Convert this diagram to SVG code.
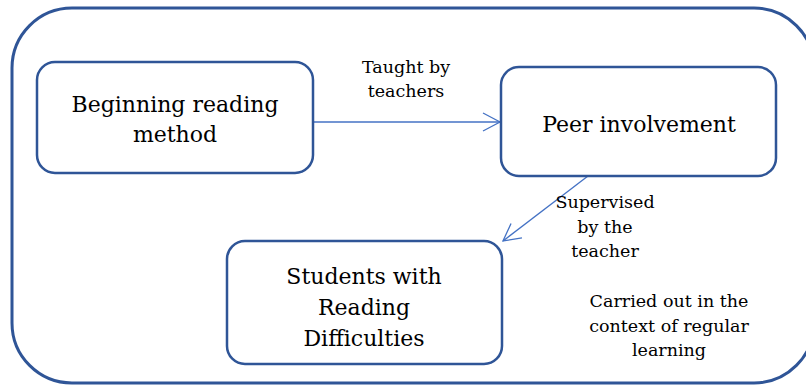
<svg xmlns="http://www.w3.org/2000/svg" width="806" height="385" viewBox="0 0 806 385">
  <defs>
    <style>
      .frame { fill: none; stroke: #2F5597; stroke-width: 3; }
      .box { fill: #FFFFFF; stroke: #2F5597; stroke-width: 2.5; }
      .conn { fill: none; stroke: #4472C4; stroke-width: 1.3; }
      .big { font-family: "DejaVu Serif", "Liberation Serif", serif; font-size: 22px; fill: #000000; text-anchor: middle; }
      .lbl { font-family: "DejaVu Serif", "Liberation Serif", serif; font-size: 17.5px; fill: #000000; text-anchor: middle; }
    </style>
    <marker id="open" viewBox="0 0 20 20" refX="18" refY="10" markerWidth="20" markerHeight="20" markerUnits="userSpaceOnUse" orient="auto">
      <path d="M1,1 L18,10 L1,19" fill="none" stroke="#4472C4" stroke-width="1.3"/>
    </marker>
  </defs>
  <rect class="frame" x="12" y="8" width="802" height="375" rx="60" ry="60"/>
  <g id="connectors">
    <line class="conn" x1="313" y1="122" x2="500" y2="122" marker-end="url(#open)"/>
    <line class="conn" x1="588" y1="176" x2="503" y2="241" marker-end="url(#open)"/>
  </g>
  <g id="node-beginning">
    <rect class="box" x="37" y="62" width="276" height="111" rx="18" ry="18"/>
    <text class="big" x="175" y="112">Beginning reading</text>
    <text class="big" x="175" y="142">method</text>
  </g>
  <g id="node-peer">
    <rect class="box" x="501" y="67" width="275" height="109" rx="18" ry="18"/>
    <text class="big" x="639" y="132">Peer involvement</text>
  </g>
  <g id="node-students">
    <rect class="box" x="227" y="241" width="275" height="123" rx="18" ry="18"/>
    <text class="big" x="364" y="284">Students with</text>
    <text class="big" x="364" y="315">Reading</text>
    <text class="big" x="364" y="346">Difficulties</text>
  </g>
  <g id="labels">
    <text class="lbl" x="406" y="73">Taught by</text>
    <text class="lbl" x="406" y="97">teachers</text>
    <text class="lbl" x="605" y="208">Supervised</text>
    <text class="lbl" x="605" y="233">by the</text>
    <text class="lbl" x="605" y="257">teacher</text>
    <text class="lbl" x="669" y="307">Carried out in the</text>
    <text class="lbl" x="669" y="332">context of regular</text>
    <text class="lbl" x="669" y="356">learning</text>
  </g>
</svg>
